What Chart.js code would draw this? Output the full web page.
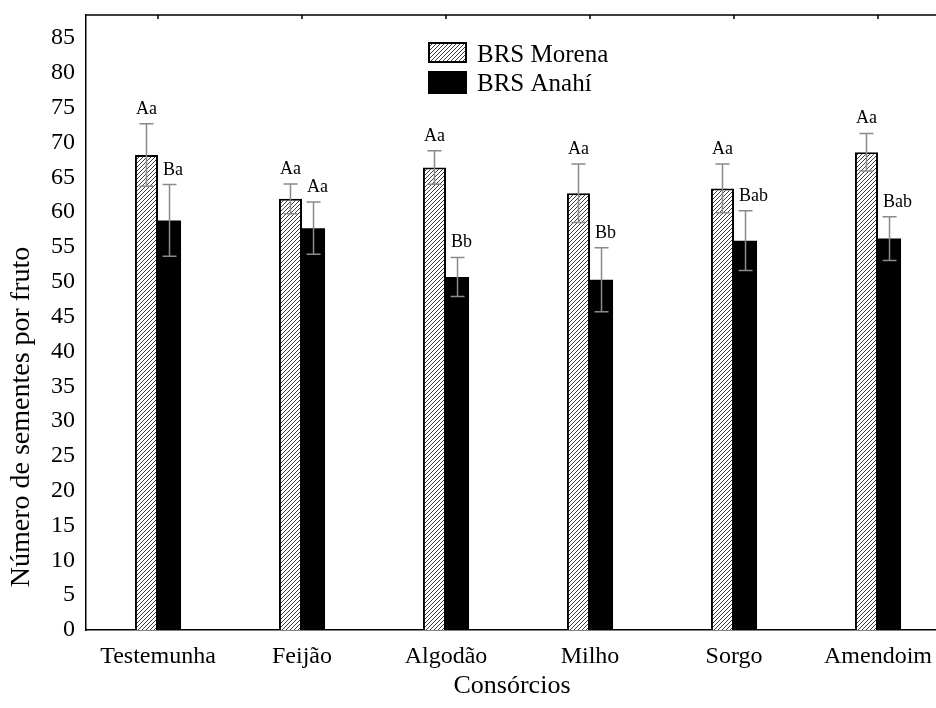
<!DOCTYPE html>
<html><head><meta charset="utf-8">
<script src="https://cdn.jsdelivr.net/npm/chart.js@4.4.1/dist/chart.umd.min.js"></script>
<style>
html,body{margin:0;padding:0;overflow:hidden;background:#fff}
#wrap{width:936px;height:708px;overflow:hidden;position:relative}
canvas{position:absolute;left:0;top:0}
</style>
</head><body><div id="wrap"><canvas id="c" width="960" height="708" style="width:960px;height:708px"></canvas></div>
<script>
const categories = ['Testemunha','Feijão','Algodão','Milho','Sorgo','Amendoim'];
const seriesNames = ['BRS Morena','BRS Anahí'];
const morena = [68.2, 61.9, 66.4, 62.7, 63.4, 68.6];
const morenaErr = [4.5, 2.15, 2.4, 4.2, 3.5, 2.7];
const anahi = [58.8, 57.7, 50.7, 50.3, 55.9, 56.2];
const anahiErr = [5.15, 3.75, 2.8, 4.6, 4.3, 3.15];
const morenaLetters = ['Aa','Aa','Aa','Aa','Aa','Aa'];
const anahiLetters = ['Ba','Aa','Bb','Bb','Bab','Bab'];
const yTitle = 'Número de sementes por fruto';
const xTitle = 'Consórcios';

const SERIF = '"Liberation Serif","Times New Roman",serif';
const canvas = document.getElementById('c');
const ctx = canvas.getContext('2d');

function makeHatch(){
  const s = 4;
  const p = document.createElement('canvas'); p.width = s; p.height = s;
  const g = p.getContext('2d');
  g.fillStyle = '#fff'; g.fillRect(0,0,s,s);
  g.strokeStyle = '#404040'; g.lineWidth = 1.0;
  g.beginPath();
  g.moveTo(-1,s+1); g.lineTo(s+1,-1);
  g.moveTo(-1,1); g.lineTo(1,-1);
  g.moveTo(s-1,s+1); g.lineTo(s+1,s-1);
  g.stroke();
  return ctx.createPattern(p,'repeat');
}
const hatch = makeHatch();

const errs = [morenaErr, anahiErr];
const letters = [morenaLetters, anahiLetters];

const decorPlugin = {
  id:'decor',
  afterDatasetsDraw(chart){
    const c = chart.ctx, y = chart.scales.y, x = chart.scales.x, ca = chart.chartArea;
    c.save();
    // error bars
    c.strokeStyle = '#8a8a8a'; c.lineWidth = 1.5;
    for (let d=0; d<2; d++){
      const meta = chart.getDatasetMeta(d);
      const vals = chart.data.datasets[d].data;
      meta.data.forEach((bar,i)=>{
        const top = y.getPixelForValue(vals[i]+errs[d][i]);
        const bot = y.getPixelForValue(vals[i]-errs[d][i]);
        c.beginPath();
        c.moveTo(bar.x, top); c.lineTo(bar.x, bot);
        c.moveTo(bar.x-7, top); c.lineTo(bar.x+7, top);
        c.moveTo(bar.x-7, bot); c.lineTo(bar.x+7, bot);
        c.stroke();
      });
    }
    // letters
    c.fillStyle = '#000'; c.font = '18px ' + SERIF; c.textBaseline = 'alphabetic';
    for (let d=0; d<2; d++){
      const meta = chart.getDatasetMeta(d);
      const vals = chart.data.datasets[d].data;
      meta.data.forEach((bar,i)=>{
        const top = y.getPixelForValue(vals[i]+errs[d][i]);
        if (d===0){ c.textAlign='center'; c.fillText(letters[d][i], bar.x, top-10); }
        else { c.textAlign='left'; c.fillText(letters[d][i], bar.x - bar.width/2 + 5, top-10); }
      });
    }
    // top border with ticks
    c.strokeStyle = '#000'; c.lineWidth = 1.5;
    c.beginPath();
    c.moveTo(ca.left, ca.top); c.lineTo(ca.right, ca.top);
    categories.forEach((_,i)=>{
      const px = x.getPixelForValue(i);
      c.moveTo(px, ca.top); c.lineTo(px, ca.top+4);
    });
    c.stroke();
    // legend
    const lx = 428, lw = 39;
    c.fillStyle = hatch; c.fillRect(lx, 42, lw, 21);
    c.strokeStyle = '#000'; c.lineWidth = 2; c.strokeRect(lx+1, 43, lw-2, 19);
    c.fillStyle = '#000'; c.fillRect(lx, 71, lw, 23);
    c.font = '25px ' + SERIF; c.textAlign = 'left'; c.fillStyle = '#000';
    c.fillText(chart.data.datasets[0].label, 477, 61.5);
    c.fillText(chart.data.datasets[1].label, 477, 90.5);
    // axis titles
    c.font = '26px ' + SERIF; c.textAlign = 'center';
    c.fillText(xTitle, 512, 693);
    c.translate(22, 417); c.rotate(-Math.PI/2);
    c.font = '28px ' + SERIF; c.textBaseline = 'middle';
    c.fillText(yTitle, 0, 0);
    c.restore();
  }
};

new Chart(ctx, {
  type:'bar',
  data:{
    labels:categories,
    datasets:[
      {label:seriesNames[0], data:morena, backgroundColor:hatch, borderColor:'#000', borderWidth:2,
       categoryPercentage:0.32, barPercentage:1.0},
      {label:seriesNames[1], data:anahi, backgroundColor:'#000', borderColor:'#000', borderWidth:0,
       categoryPercentage:0.32, barPercentage:1.0}
    ]
  },
  options:{
    responsive:false, animation:false, devicePixelRatio:1,
    layout:{padding:{left:0,right:10,top:15,bottom:0}},
    plugins:{legend:{display:false}, tooltip:{enabled:false}},
    scales:{
      x:{
        grid:{display:false, drawTicks:false},
        border:{display:true, color:'#000', width:1.5},
        ticks:{color:'#000', font:{family:SERIF, size:24}, padding:12, maxRotation:0, autoSkip:false},
        afterFit(s){ s.height = 78; s.paddingLeft = 0; s.paddingRight = 0; }
      },
      y:{
        min:0, max:88.3,
        grid:{display:false, drawTicks:false},
        border:{display:true, color:'#000', width:1.5},
        ticks:{stepSize:5, includeBounds:false, color:'#000', font:{family:SERIF, size:24}, padding:11,
          callback:(v)=> (v%5===0 ? String(v) : '')},
        afterFit(s){ s.width = 86; s.paddingTop = 0; s.paddingBottom = 0; }
      }
    }
  },
  plugins:[decorPlugin]
});
</script>
</body></html>
